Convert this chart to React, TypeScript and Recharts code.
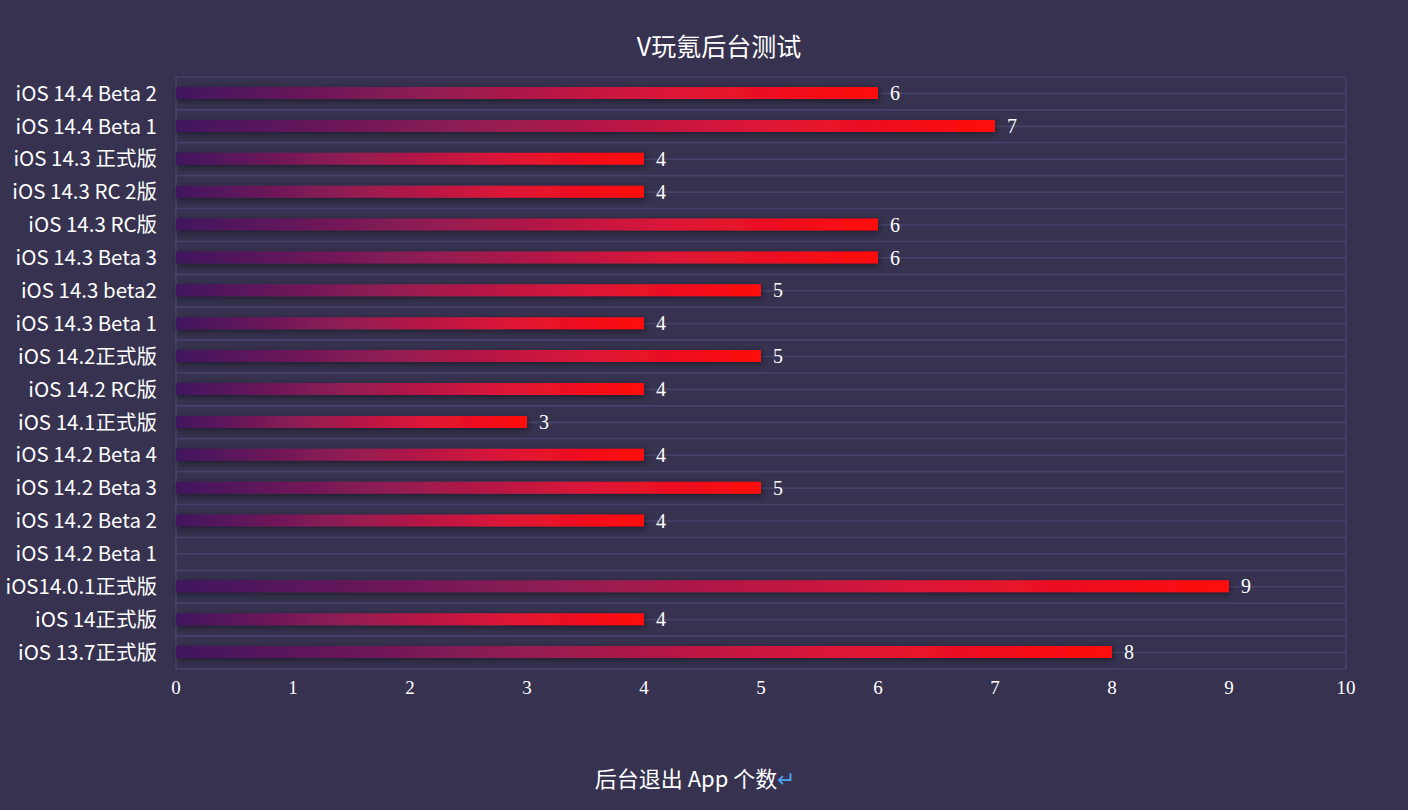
import React from "react";
import {
  BarChart,
  Bar,
  XAxis,
  YAxis,
  CartesianGrid,
  LabelList,
} from "recharts";

const categories = [
  "iOS 14.4 Beta 2",
  "iOS 14.4 Beta 1",
  "iOS 14.3 正式版",
  "iOS 14.3 RC 2版",
  "iOS 14.3 RC版",
  "iOS 14.3 Beta 3",
  "iOS 14.3 beta2",
  "iOS 14.3 Beta 1",
  "iOS 14.2正式版",
  "iOS 14.2 RC版",
  "iOS 14.1正式版",
  "iOS 14.2 Beta 4",
  "iOS 14.2 Beta 3",
  "iOS 14.2 Beta 2",
  "iOS 14.2 Beta 1",
  "iOS14.0.1正式版",
  "iOS 14正式版",
  "iOS 13.7正式版",
];

const appCounts: (number | null)[] = [6, 7, 4, 4, 6, 6, 5, 4, 5, 4, 3, 4, 5, 4, null, 9, 4, 8];

const xTicks = [0, 1, 2, 3, 4, 5, 6, 7, 8, 9, 10];

const title = "V玩氪后台测试";
const xTitle = "后台退出 App 个数";

const BG = "#36324f";
const GRID = "#46436b";
const SANS = "'Noto Sans CJK SC', 'Noto Sans', sans-serif";
const SERIF = "'Liberation Serif', 'DejaVu Serif', serif";

export default function App() {
  const data = categories.map((name, i) => ({ name, value: appCounts[i] }));

  // grid lines at every half band (band edges + band centres)
  const hLines = ({ offset }: any) =>
    Array.from({ length: categories.length * 2 + 1 }, (_, i) => offset.top + (i * offset.height) / (categories.length * 2));
  const vLines = ({ offset }: any) => [offset.left, offset.left + offset.width];

  return (
    <div
      style={{
        position: "fixed",
        left: 0,
        top: 0,
        width: 1408,
        height: 810,
        background: BG,
        overflow: "hidden",
      }}
    >
      <div
        style={{
          position: "absolute",
          left: 0,
          width: 1438,
          top: 27,
          textAlign: "center",
          color: "#fff",
          fontFamily: SANS,
          fontSize: 25,
          lineHeight: "36px",
        }}
      >
        {title}
      </div>
      <BarChart
        width={1408}
        height={810}
        data={data}
        layout="vertical"
        margin={{ top: 77, right: 62, bottom: 101, left: 0 }}
      >
        <defs>
          <linearGradient id="barGrad" x1="0" y1="0" x2="1" y2="0">
            <stop offset="0" stopColor="#40155f" />
            <stop offset="0.35" stopColor="#8e1b54" />
            <stop offset="0.7" stopColor="#dc1638" />
            <stop offset="1" stopColor="#ff0a0a" />
          </linearGradient>
          <filter id="barShadow" x="-5%" y="-80%" width="110%" height="260%">
            <feDropShadow dx="1" dy="2" stdDeviation="3" floodColor="#000" floodOpacity="0.45" />
          </filter>
        </defs>
        <CartesianGrid
          stroke={GRID}
          strokeWidth={1.6}
          horizontalCoordinatesGenerator={hLines}
          verticalCoordinatesGenerator={vLines}
        />
        <XAxis
          type="number"
          domain={[0, 10]}
          ticks={xTicks}
          interval={0}
          axisLine={false}
          tickLine={false}
          tickSize={0}
          tickMargin={12}
          height={40}
          tick={{ fill: "#fff", fontFamily: SERIF, fontSize: 19 }}
        />
        <YAxis
          type="category"
          dataKey="name"
          width={176}
          interval={0}
          axisLine={false}
          tickLine={false}
          tickSize={0}
          tickMargin={19}
          tick={{ fill: "#fff", fontFamily: SANS, fontSize: 20.5 }}
        />
        <Bar
          dataKey="value"
          barSize={12}
          fill="url(#barGrad)"
          filter="url(#barShadow)"
          isAnimationActive={false}
        >
          <LabelList
            dataKey="value"
            position="right"
            offset={12}
            formatter={(v: any) => (v == null ? "" : v)}
            style={{ fill: "#fff", fontFamily: SERIF, fontSize: 20 }}
          />
        </Bar>
      </BarChart>
      <div
        style={{
          position: "absolute",
          left: 0,
          width: 1390,
          top: 760,
          textAlign: "center",
          color: "#fff",
          fontFamily: SANS,
          fontSize: 22,
          lineHeight: "34px",
        }}
      >
        {xTitle}
        <span style={{ color: "#4aa3f0" }}>↵</span>
      </div>
    </div>
  );
}
